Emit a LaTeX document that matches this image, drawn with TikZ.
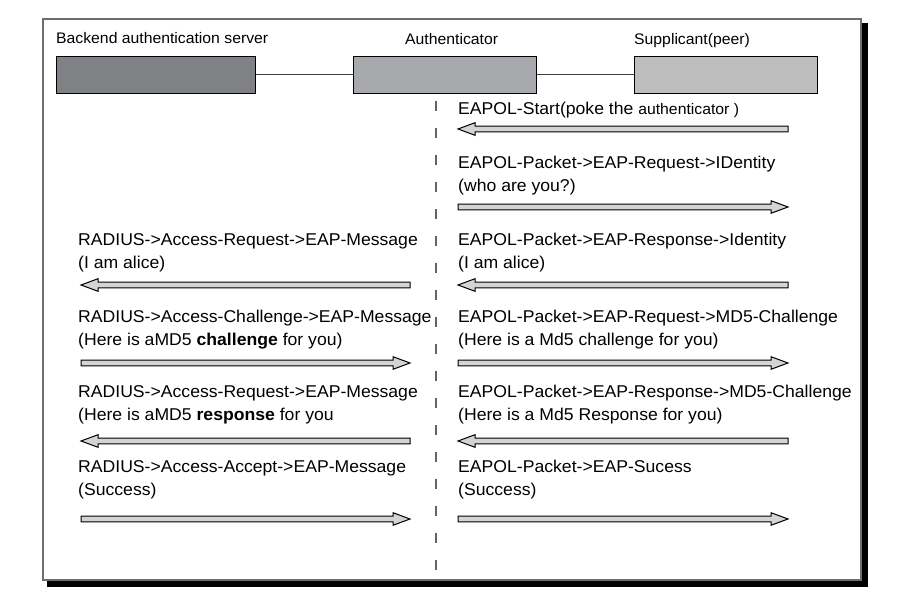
\documentclass[tikz,border=0pt]{standalone}
\usepackage{fontspec}
\setmainfont{Liberation Sans}[FakeStretch=1.03]
\usetikzlibrary{calc}
\definecolor{servergray}{RGB}{128,129,132}
\definecolor{authgray}{RGB}{168,169,172}
\definecolor{suppgray}{RGB}{190,190,190}
\definecolor{arrowgray}{RGB}{212,212,212}
\definecolor{framegray}{RGB}{110,110,110}
\definecolor{lifegray}{RGB}{100,100,100}
\newcommand\smallsz{\fontsize{15.3}{17}\selectfont}
\begin{document}
\begin{tikzpicture}[x=1pt,y=-1pt,
  entity/.style={draw=black, line width=0.9pt, minimum height=37pt,
    inner sep=0pt, anchor=north west},
  header/.style={anchor=base west, inner sep=0pt, font=\smallsz},
  % base anchor of a two-line message sits on its second line
  msg/.style={anchor=base west, inner sep=0pt, align=left,
    font=\fontsize{17.1}{23}\selectfont},
  link/.style={draw=black!75, line width=0.9pt},
  lifeline/.style={draw=lifegray, line width=1.3pt, dash pattern=on 10pt off 17pt},
  fat/.style={draw=black, fill=arrowgray, line width=1pt, line join=miter,
    to path={let \p1=(\tikztostart), \p2=(\tikztotarget),
      \n1={sign(\x2-\x1)} in
      (\x1,\y1+2.9pt) -- (\x2-\n1*17pt,\y1+2.9pt) -- (\x2-\n1*17pt,\y1+6.3pt)
      -- (\x2,\y1) -- (\x2-\n1*17pt,\y1-6.3pt) -- (\x2-\n1*17pt,\y1-2.9pt)
      -- (\x1,\y1-2.9pt) -- cycle}}
]
\useasboundingbox (0,0) rectangle (911,601);

% frame with drop shadow
\fill[black] (47,23) rectangle (868,587);
\draw[draw=framegray, line width=1.2pt, fill=white] (43,19) rectangle (861,580);

% entities
\node[entity, fill=servergray, minimum width=199pt] (server) at (56,56) {};
\node[entity, fill=authgray, minimum width=183pt] (auth) at (353,56) {};
\node[entity, fill=suppgray, minimum width=183pt] (supp) at (634,56) {};
\draw[link] (server) -- (auth);
\draw[link] (auth) -- (supp);

\node[header] (serverlbl) at (56,44) {Backend authentication server};
\node[header] (authlbl) at (405,45) {Authenticator};
\node[header] (supplbl) at (634,45) {Supplicant(peer)};

% authenticator lifeline
\coordinate (lltop) at (436,101);
\coordinate (llbot) at (436,570);
\draw[lifeline] (lltop) -- (llbot);

% arrow end points: left pair (server side), right pair (supplicant side)
\foreach \n/\y in {1/129,2/207,3/285,4/363,5/441,6/519}{
  \coordinate (la\n) at (81,\y);
  \coordinate (lb\n) at (410,\y);
  \coordinate (ra\n) at (458,\y);
  \coordinate (rb\n) at (788,\y);
}

% supplicant <-> authenticator
\node[msg] (m1) at (458,115) {EAPOL-Start(poke the {\smallsz authenticator )}};
\draw[fat] (rb1) to (ra1);
\node[msg] (m2) at (458,192) {EAPOL-Packet->EAP-Request->IDentity\\(who are you?)};
\draw[fat] (ra2) to (rb2);
\node[msg] (m3) at (458,269) {EAPOL-Packet->EAP-Response->Identity\\(I am alice)};
\draw[fat] (rb3) to (ra3);
\node[msg] (m4) at (458,346) {EAPOL-Packet->EAP-Request->MD5-Challenge\\(Here is a Md5 challenge for you)};
\draw[fat] (ra4) to (rb4);
\node[msg] (m5) at (458,421) {EAPOL-Packet->EAP-Response->MD5-Challenge\\(Here is a Md5 Response for you)};
\draw[fat] (rb5) to (ra5);
\node[msg] (m6) at (458,496) {EAPOL-Packet->EAP-Sucess\\(Success)};
\draw[fat] (ra6) to (rb6);

% authenticator <-> server
\node[msg] (s3) at (78,269) {RADIUS->Access-Request->EAP-Message\\(I am alice)};
\draw[fat] (lb3) to (la3);
\node[msg] (s4) at (78,346) {RADIUS->Access-Challenge->EAP-Message\\(Here is aMD5 \textbf{challenge} for you)};
\draw[fat] (la4) to (lb4);
\node[msg] (s5) at (78,421) {RADIUS->Access-Request->EAP-Message\\(Here is aMD5 \textbf{response} for you};
\draw[fat] (lb5) to (la5);
\node[msg] (s6) at (78,496) {RADIUS->Access-Accept->EAP-Message\\(Success)};
\draw[fat] (la6) to (lb6);
\end{tikzpicture}
\end{document}
